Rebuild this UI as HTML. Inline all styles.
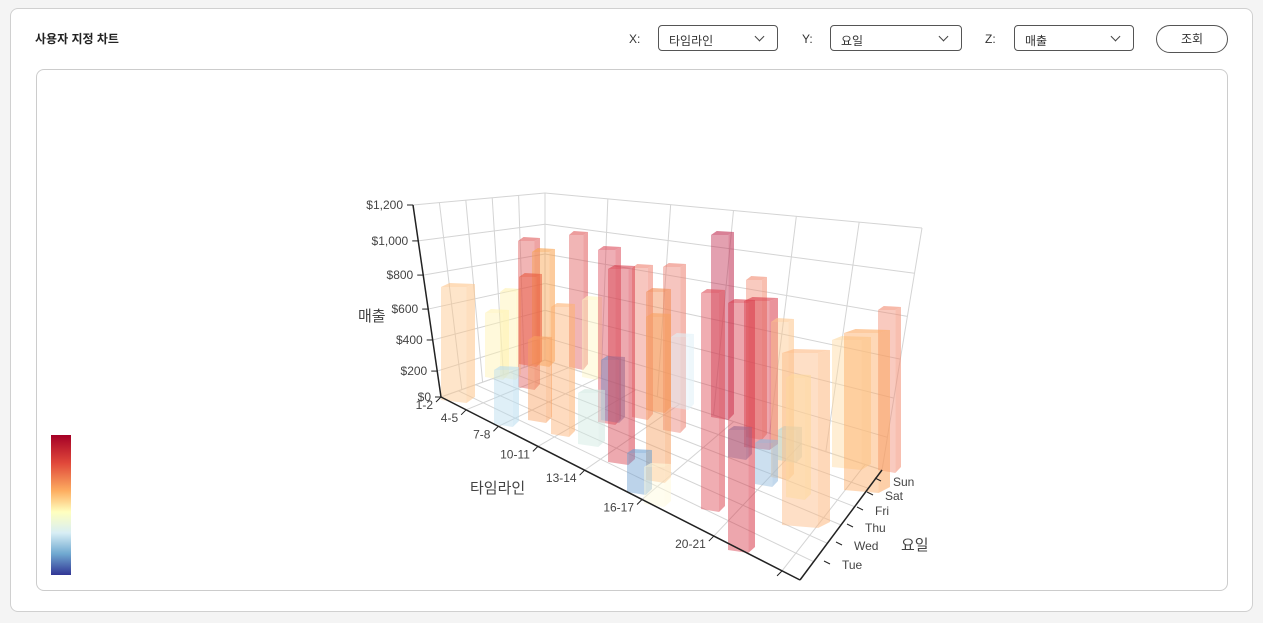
<!DOCTYPE html>
<html><head><meta charset="utf-8"><style>
body{margin:0;width:1263px;height:623px;background:#f4f4f4;font-family:"Liberation Sans","Noto Sans CJK KR",sans-serif;position:relative;overflow:hidden}
.card{position:absolute;left:10px;top:8px;width:1241px;height:602px;background:#fff;border:1px solid #d0d0d0;border-radius:8px}
.title{position:absolute;left:35px;top:30px;font-size:12px;font-weight:bold;color:#222}
.lbl{position:absolute;top:32px;font-size:12px;color:#333}
.sel{position:absolute;top:25px;height:26px;border:1px solid #555;border-radius:4px;font-size:12px;color:#333;box-sizing:border-box;padding:6px 10px}
.sel:after{content:"";position:absolute;right:14px;top:7px;width:6px;height:6px;border-right:1px solid #444;border-bottom:1px solid #444;transform:rotate(45deg)}
.btn{position:absolute;left:1156px;top:25px;width:72px;height:28px;border:1px solid #555;border-radius:14px;box-sizing:border-box;text-align:center;font-size:12px;line-height:26px;color:#333}
.inner{position:absolute;left:36px;top:69px;width:1190px;height:520px;border:1px solid #ccc;border-radius:8px;background:#fff}
svg{position:absolute;left:0;top:0}
</style></head><body>
<div class="card"></div>
<div class="title">사용자 지정 차트</div>
<div class="lbl" style="left:629px">X:</div>
<div class="sel" style="left:658px;width:120px">타임라인</div>
<div class="lbl" style="left:802px">Y:</div>
<div class="sel" style="left:830px;width:132px">요일</div>
<div class="lbl" style="left:985px">Z:</div>
<div class="sel" style="left:1014px;width:120px">매출</div>
<div class="btn">조회</div>
<div class="inner"></div>
<svg width="1263" height="623" id="s" font-family="Liberation Sans, Noto Sans CJK KR, sans-serif">
<defs><linearGradient id="cb" x1="0" y1="0" x2="0" y2="1">
<stop offset="0" stop-color="#a50026"/><stop offset="0.2" stop-color="#e0483a"/><stop offset="0.4" stop-color="#fdae61"/><stop offset="0.55" stop-color="#ffffbf"/><stop offset="0.7" stop-color="#d8eef5"/><stop offset="0.85" stop-color="#6fa8d0"/><stop offset="1" stop-color="#313695"/></linearGradient></defs>
<rect x="51" y="435" width="20" height="140" fill="url(#cb)"/>
<g id="g"></g>
</svg>
<script>
var g=document.getElementById('g'),h='';
function L(a,b,c,d,col,w){h+='<line x1="'+a+'" y1="'+b+'" x2="'+c+'" y2="'+d+'" stroke="'+(col||'#d4d4d4')+'" stroke-width="'+(w||1)+'"/>';}
function lerp(p,q,t){return [p[0]+(q[0]-p[0])*t,p[1]+(q[1]-p[1])*t];}
var A=[441,397],At=[413,205],D=[545,360],Dt=[545,193],C=[882,470],Ct=[922,228],B=[800,580];
var yt=[0,.135,.297,.458,.635,.813,1];
for(var i=0;i<=6;i++){var t=yt[i];var a=lerp(A,At,t),d=lerp(D,Dt,t),c=lerp(C,Ct,t);L(a[0],a[1],d[0],d[1]);L(d[0],d[1],c[0],c[1]);}
for(var i=0;i<=5;i++){var t=i/5;var p=lerp(A,D,t),q=lerp(At,Dt,t);L(p[0],p[1],q[0],q[1]);}
for(var i=0;i<=6;i++){var t=i/6;var p=lerp(D,C,t),q=lerp(Dt,Ct,t);L(p[0],p[1],q[0],q[1]);}
var xt=[0,.07,.16,.27,.4,.56,.76,.95];
for(var i=0;i<8;i++){var t=xt[i];var p=lerp(A,B,t),q=lerp(D,C,t);L(p[0],p[1],q[0],q[1]);}
for(var i=0;i<=6;i++){var t=i/6;var p=lerp(A,D,t),q=lerp(B,C,t);L(p[0],p[1],q[0],q[1]);}
var bars=[[441,475,287,403,'#fdc58a'],[485,509,313,380,'#fff2b0'],[500,521,292,380,'#fff2b0'],[518,540,241,390,'#e05a5a'],[532,555,252,367,'#f9a04a'],[519,542,277,367,'#e8553a'],[569,588,235,370,'#e05a5a'],[582,602,300,380,'#fff6c0'],[494,519,370,427,'#b8dcee'],[551,575,307,437,'#fdb070'],[528,552,340,423,'#f8a060'],[598,621,250,425,'#dc4b5a'],[632,653,268,420,'#ee8070'],[663,686,267,433,'#ec7f70'],[646,671,292,413,'#f28a50'],[601,625,360,423,'#7088c0'],[671,694,337,410,'#e0f0f8'],[608,635,269,465,'#d8404e'],[646,671,317,483,'#f6a060'],[578,605,393,447,'#cfe8e0'],[711,734,235,420,'#c02c50'],[746,767,280,440,'#f28a70'],[744,778,301,450,'#d83a4a'],[701,725,293,512,'#dd4a55'],[728,752,430,460,'#6a90c8'],[771,794,322,480,'#fdc58a'],[832,871,340,470,'#fed9a0'],[878,901,310,473,'#f28a70'],[755,778,443,487,'#8fb8dc'],[778,802,430,463,'#a8d4d8'],[786,811,378,500,'#fff2b0'],[844,890,333,493,'#fca860'],[627,652,453,495,'#6a9ed0'],[644,671,467,507,'#fffadc'],[728,755,303,553,'#d83a4a'],[782,830,353,528,'#fdb880']];
bars.forEach(function(b){var x0=b[0],x1=b[1],t=b[2],bt=b[3],c=b[4],w=x1-x0,dx=w*0.25;
h+='<polygon points="'+x0+','+t+' '+(x1-dx)+','+t+' '+(x1-dx)+','+bt+' '+x0+','+(bt-3)+'" fill="'+c+'" fill-opacity="0.45"/>';
h+='<polygon points="'+(x1-dx)+','+t+' '+x1+','+(t-3)+' '+x1+','+(bt-6)+' '+(x1-dx)+','+bt+'" fill="'+c+'" fill-opacity="0.55"/>';
h+='<polygon points="'+x0+','+t+' '+(x0+dx)+','+(t-4)+' '+x1+','+(t-3)+' '+(x1-dx)+','+t+'" fill="'+c+'" fill-opacity="0.6"/>';});
L(At[0],At[1],A[0],A[1],'#222',1.5);L(A[0],A[1],B[0],B[1],'#222',1.5);L(B[0],B[1],C[0],C[1],'#222',1.5);
var ys=['$0','$200','$400','$600','$800','$1,000','$1,200'];
for(var i=0;i<=6;i++){var p=lerp(A,At,yt[i]);L(p[0]-6,p[1],p[0],p[1],'#222');h+='<text x="'+(p[0]-10)+'" y="'+(p[1]+4)+'" font-size="12" fill="#444" text-anchor="end">'+ys[i]+'</text>';}
var xs=['1-2','4-5','7-8','10-11','13-14','16-17','20-21',''];
for(var i=0;i<8;i++){var p=lerp(A,B,xt[i]);L(p[0],p[1],p[0]-5,p[1]+5,'#222');if(xs[i])h+='<text x="'+(p[0]-8)+'" y="'+(p[1]+12)+'" font-size="12" fill="#444" text-anchor="end">'+xs[i]+'</text>';}
var ds=['Tue','Wed','Thu','Fri','Sat','Sun'],dp=[[842,569],[854,550],[865,532],[875,515],[885,500],[893,486]];
for(var i=0;i<6;i++){var p=dp[i];L(p[0]-18,p[1]-8,p[0]-12,p[1]-5,'#222');h+='<text x="'+p[0]+'" y="'+p[1]+'" font-size="12" fill="#444">'+ds[i]+'</text>';}
h+='<text x="358" y="321" font-size="15" fill="#444">매출</text><text x="470" y="493" font-size="15" fill="#444">타임라인</text><text x="901" y="550" font-size="15" fill="#444">요일</text>';
g.innerHTML=h;
</script>
</body></html>
